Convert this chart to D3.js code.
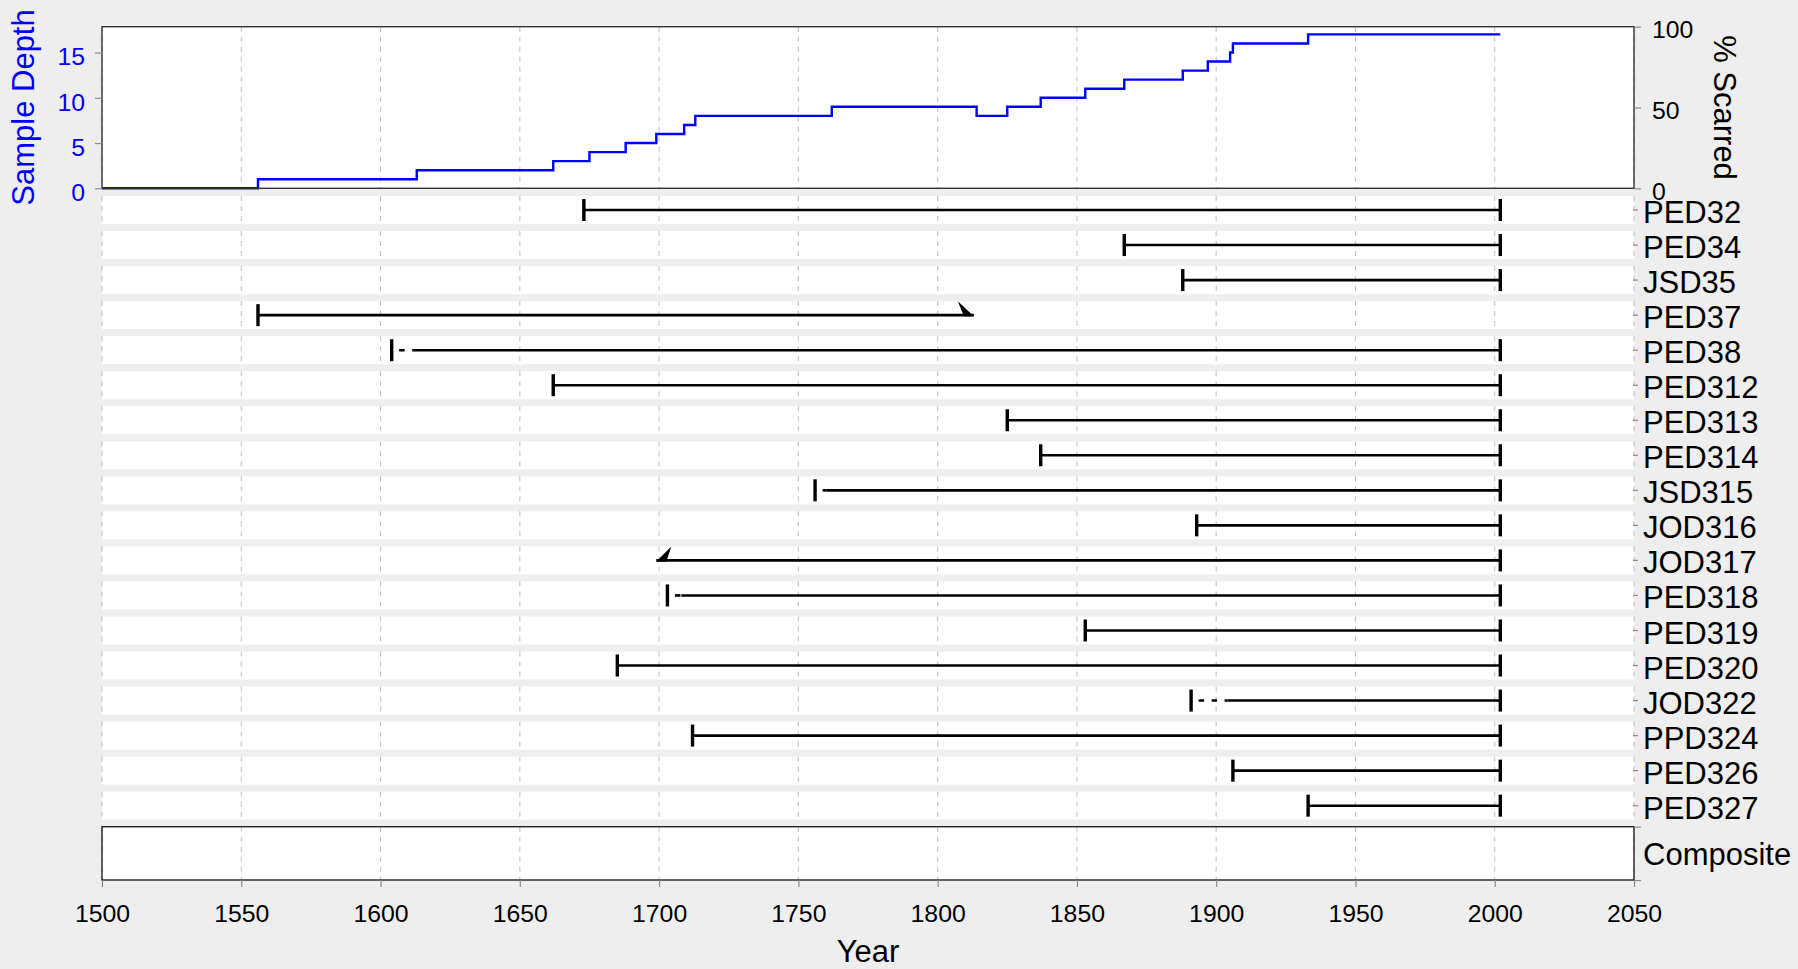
<!DOCTYPE html>
<html><head><meta charset="utf-8">
<script src="https://cdn.jsdelivr.net/npm/d3@7"></script>
<style>
html,body{margin:0;padding:0;background:#eeeeee;}
svg{display:block;font-family:"Liberation Sans",Arial,Helvetica,sans-serif;}
</style>
</head><body>
<svg id="chart" width="1798" height="969"></svg>
<script>
// ---------------- data ----------------
const series = ["PED32","PED34","JSD35","PED37","PED38","PED312","PED313","PED314","JSD315","JOD316","JOD317","PED318","PED319","PED320","JOD322","PPD324","PED326","PED327"];
const innerYears    = [1673,1867,1888,1556,1604,1662,1825,1837,1756,1893,1699,1703,1853,1685,1891,1712,1906,1933];
const innerTypes    = ["pith","pith","pith","pith","pith","pith","pith","pith","pith","pith","inner","pith","pith","pith","pith","pith","pith","pith"];
const recorderStart = [1673,1867,1888,1556,1612,1662,1825,1837,1760,1893,1699,1708,1853,1685,1904,1712,1906,1933];
const outerYears    = [2002,2002,2002,1813,2002,2002,2002,2002,2002,2002,2002,2002,2002,2002,2002,2002,2002,2002];
const outerTypes    = ["bark","bark","bark","outer","bark","bark","bark","bark","bark","bark","bark","bark","bark","bark","bark","bark","bark","bark"];

const depthYears  = [1500,1556,1613,1662,1675,1688,1699,1709,1713,1762,1814,1825,1837,1853,1867,1888,1897,1905,1906,1933,2002];
const depthValues = [0,1,2,3,4,5,6,7,8,9,8,9,10,11,12,13,14,15,16,17,17];

const yearTicks  = [1500,1550,1600,1650,1700,1750,1800,1850,1900,1950,2000,2050];
const depthTicks = [0,5,10,15];
const pctTicks   = [0,50,100];

(function () {
// ---------------- layout ----------------
const W = 1798, H = 969;
const X0 = 102, X1 = 1634;
const T0 = 26.7, T1 = 188.3;
const S0 = 192.5, S1 = 823.2;
const C0 = 826.7, C1 = 880;
const BG = "#eeeeee", GRID = "#c4c4c4", TICK = "#8a8a8a";
const FS_TICK = 24.8, FS_TITLE = 31;

const svg = d3.select("#chart");
svg.append("rect").attr("width", W).attr("height", H).attr("fill", BG);

const x = d3.scaleLinear().domain([1500, 2050]).range([X0, X1]);
const yDepth = d3.scaleLinear().domain([0, 17.85]).range([T1, T0]);
const yPct = d3.scaleLinear().domain([0, 100]).range([T1, T0]);
const yBand = d3.scaleBand().domain(series).range([S0, S1]).paddingInner(0.2).paddingOuter(0.1);
const yComp = d3.scaleLinear().domain([0, 1]).range([C1, C0]);

// ---------------- top panel ----------------
const topG = svg.append("g");
topG.append("rect").attr("x", X0).attr("y", T0).attr("width", X1 - X0).attr("height", T1 - T0).attr("fill", "#fff");
topG.selectAll("line.grid").data(yearTicks).join("line")
  .attr("x1", d => x(d)).attr("x2", d => x(d)).attr("y1", T0).attr("y2", T1)
  .attr("stroke", GRID).attr("stroke-width", 1.1).attr("stroke-dasharray", "5,5");
const depthData = depthYears.map((d, i) => ({year: d, v: depthValues[i]}));
topG.append("path").datum(depthData)
  .attr("d", d3.line().x(d => x(d.year)).y(d => yDepth(d.v)).curve(d3.curveStepAfter))
  .attr("fill", "none").attr("stroke", "#0000ff").attr("stroke-width", 2.4);
topG.append("rect").attr("x", X0).attr("y", T0).attr("width", X1 - X0).attr("height", T1 - T0)
  .attr("fill", "none").attr("stroke", "#333").attr("stroke-width", 1.4);

function styleAxis(g, color, fs) {
  g.select(".domain").remove();
  g.selectAll(".tick line").attr("stroke", TICK).attr("stroke-width", 1.2);
  g.selectAll(".tick text").attr("fill", color).attr("font-size", fs).attr("font-family", '"Liberation Sans",Arial,sans-serif');
}

const axL = svg.append("g").attr("transform", `translate(${X0},0)`)
  .call(d3.axisLeft(yDepth).tickValues(depthTicks).tickSize(7).tickPadding(10).tickFormat(d3.format("d")));
styleAxis(axL, "#0000ff", FS_TICK);
axL.selectAll(".tick text").attr("dy", "0.5em");

const axR = svg.append("g").attr("transform", `translate(${X1},0)`)
  .call(d3.axisRight(yPct).tickValues(pctTicks).tickSize(7).tickPadding(11).tickFormat(d3.format("d")));
styleAxis(axR, "#000", FS_TICK);
axR.selectAll(".tick text").attr("dy", "0.45em");

svg.append("text").text("Sample Depth")
  .attr("transform", `translate(34,${(T0 + T1) / 2}) rotate(-90)`)
  .attr("text-anchor", "middle").attr("fill", "#0000ff").attr("font-size", FS_TITLE);
svg.append("text").text("% Scarred")
  .attr("transform", `translate(1714,${(T0 + T1) / 2}) rotate(90)`)
  .attr("text-anchor", "middle").attr("fill", "#000").attr("font-size", FS_TITLE);

// ---------------- series panel ----------------
const mid = svg.append("g");
const bw = yBand.bandwidth();
series.forEach(s => {
  const yt = yBand(s);
  mid.append("rect").attr("x", X0).attr("y", yt).attr("width", X1 - X0).attr("height", bw).attr("fill", "#fff");
  mid.append("g").selectAll("line").data(yearTicks).join("line")
    .attr("x1", d => x(d)).attr("x2", d => x(d)).attr("y1", yt).attr("y2", yt + bw)
    .attr("stroke", GRID).attr("stroke-width", 1.1).attr("stroke-dasharray", "5,5");
});

const rows = series.map((s, i) => ({
  name: s, inner: innerYears[i], innerType: innerTypes[i], rec: recorderStart[i],
  outer: outerYears[i], outerType: outerTypes[i], cy: yBand(s) + bw / 2
}));

// null (non-recording) segments
mid.append("g").selectAll("line").data(rows.filter(r => r.rec > r.inner)).join("line")
  .attr("x1", r => x(r.inner)).attr("x2", r => x(r.rec)).attr("y1", r => r.cy).attr("y2", r => r.cy)
  .attr("stroke", "#000").attr("stroke-width", 2.6).attr("stroke-dasharray", "5.5,7.5").attr("stroke-dashoffset", 5.5);
// recorder segments
mid.append("g").selectAll("line").data(rows).join("line")
  .attr("x1", r => x(r.rec)).attr("x2", r => x(r.outer)).attr("y1", r => r.cy).attr("y2", r => r.cy)
  .attr("stroke", "#000").attr("stroke-width", 2.6);
// pith / bark ticks
const tickMarks = [];
rows.forEach(r => {
  if (r.innerType === "pith") tickMarks.push({yr: r.inner, cy: r.cy});
  if (r.outerType === "bark") tickMarks.push({yr: r.outer, cy: r.cy});
});
mid.append("g").selectAll("line").data(tickMarks).join("line")
  .attr("x1", d => x(d.yr)).attr("x2", d => x(d.yr)).attr("y1", d => d.cy - 11).attr("y2", d => d.cy + 11)
  .attr("stroke", "#000").attr("stroke-width", 3.4);
// inner-year / outer-year wedges
mid.append("g").selectAll("path").data(rows.filter(r => r.innerType === "inner")).join("path")
  .attr("d", r => { const a = x(r.inner), c = r.cy; return `M${a},${c + 1}L${a + 15},${c - 14}L${a + 10},${c + 1}Z`; })
  .attr("fill", "#000");
mid.append("g").selectAll("path").data(rows.filter(r => r.outerType === "outer")).join("path")
  .attr("d", r => { const a = x(r.outer), c = r.cy; return `M${a},${c + 1}L${a - 16},${c - 14}L${a - 10},${c + 1}Z`; })
  .attr("fill", "#000");

const axS = svg.append("g").attr("transform", `translate(${X1 - 1},0)`)
  .call(d3.axisRight(yBand).tickSize(5).tickPadding(5));
styleAxis(axS, "#000", FS_TITLE);
axS.selectAll(".tick text").attr("dy", "0.42em");

// ---------------- composite panel ----------------
const comp = svg.append("g");
comp.append("rect").attr("x", X0).attr("y", C0).attr("width", X1 - X0).attr("height", C1 - C0).attr("fill", "#fff");
comp.append("g").selectAll("line").data(yearTicks).join("line")
  .attr("x1", d => x(d)).attr("x2", d => x(d)).attr("y1", C0).attr("y2", C1)
  .attr("stroke", GRID).attr("stroke-width", 1.1).attr("stroke-dasharray", "5,5");
comp.append("rect").attr("x", X0).attr("y", C0).attr("width", X1 - X0).attr("height", C1 - C0)
  .attr("fill", "none").attr("stroke", "#222").attr("stroke-width", 1.4);
const axC = svg.append("g").attr("transform", `translate(${X1},0)`)
  .call(d3.axisRight(yComp).tickValues([0, 1]).tickSize(7).tickFormat(""));
styleAxis(axC, "#000", FS_TICK);
svg.append("text").text("Composite").attr("x", 1643).attr("y", (C0 + C1) / 2).attr("dy", "0.36em")
  .attr("font-size", FS_TITLE).attr("fill", "#000");

// ---------------- bottom axis ----------------
const axB = svg.append("g").attr("transform", `translate(0,${C1})`)
  .call(d3.axisBottom(x).tickValues(yearTicks).tickSize(7).tickPadding(17.5).tickFormat(d3.format("d")));
styleAxis(axB, "#000", FS_TICK);
svg.append("text").text("Year").attr("x", (X0 + X1) / 2).attr("y", 962)
  .attr("text-anchor", "middle").attr("font-size", FS_TITLE).attr("fill", "#000");
})();
</script>
</body></html>
